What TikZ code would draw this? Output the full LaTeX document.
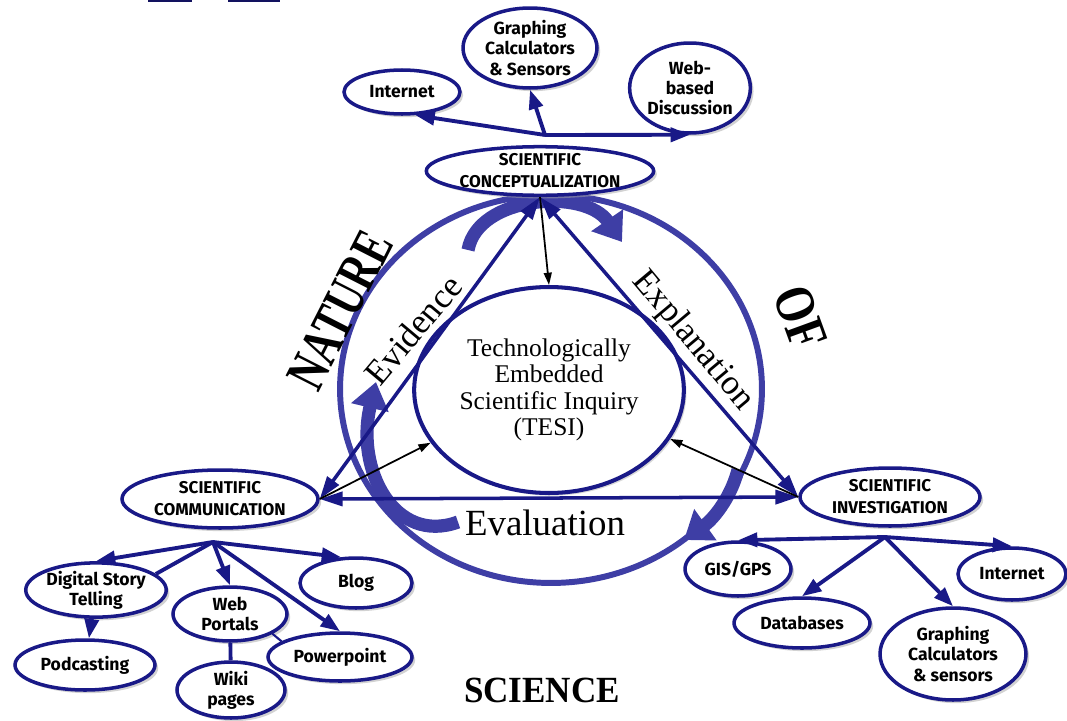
\documentclass[tikz,border=0pt]{standalone}
\usepackage{fontspec}
\setmainfont{Liberation Serif}
\newfontfamily\boxfont{Fira Sans}
\usetikzlibrary{shapes.geometric,arrows.meta,shadows}
\definecolor{navy}{RGB}{25,25,135}
\definecolor{ringblue}{RGB}{62,62,165}
\tikzset{
  bubble/.style={ellipse, draw=navy, line width=2pt, fill=white, inner sep=0pt, align=center,
    font=\boxfont\bfseries\fontsize{10}{11.5}\selectfont,
    drop shadow={shadow xshift=1.8pt, shadow yshift=-1.8pt, fill=black!35}},
  head/.style={bubble, font=\boxfont\bfseries\fontsize{9.7}{12.5}\selectfont},
  link/.style={draw=navy, line width=2.2pt, -{Triangle[length=11pt,width=8pt]}},
  bar/.style={draw=navy, line width=2.2pt},
  tri/.style={draw=navy, line width=2pt, {Triangle[length=13pt,width=8pt]}-{Triangle[length=13pt,width=8pt]}},
  pointer/.style={draw=black, line width=1pt, -{Triangle[length=7pt,width=4.5pt]}},
  band/.style={draw=ringblue, line width=7.5pt, -{Triangle[length=15pt,width=21pt]}},
  word/.style={font=\fontsize{20}{20}\selectfont},
  big/.style={font=\bfseries\fontsize{32}{32}\selectfont}
}
\begin{document}
\begin{tikzpicture}[x=0.02cm,y=-0.02cm]
\useasboundingbox (0,0) rectangle (1067,720);
\fill[navy!70!black] (148,0) rectangle (192,1.5);
\fill[navy!70!black] (228,0) rectangle (280,1.5);

\node[ellipse, draw=ringblue, line width=3.4pt, minimum width=8.44cm, minimum height=7.76cm] (ring) at (551,389) {};

\draw[band] (468,250) .. controls (478,195) and (585,188) .. (622,242);
\draw[band] (738,470) .. controls (730,500) and (712,520) .. (684,540);
\draw[band] (458,522) .. controls (395,545) and (355,470) .. (376,382);

\node[ellipse, draw=navy, line width=2.3pt, fill=white, minimum width=5.04cm, minimum height=4.12cm,
  drop shadow={shadow xshift=1.5pt, shadow yshift=-1.5pt, fill=black!30},
  align=center, font=\fontsize{14.5}{15}\selectfont] (tesi) at (549,390)
  {Technologically\\Embedded\\Scientific Inquiry\\(TESI)};

\node[head, minimum width=4.52cm, minimum height=0.96cm] (conc) at (540,171) {SCIENTIFIC\\CONCEPTUALIZATION};
\node[head, minimum width=3.92cm, minimum height=1.16cm] (comm) at (220,499) {SCIENTIFIC\\COMMUNICATION};
\node[head, minimum width=3.6cm, minimum height=1.16cm] (inv) at (890,497) {SCIENTIFIC\\INVESTIGATION};

\node[bubble, minimum width=2.32cm, minimum height=0.88cm] (inttop) at (402,92) {Internet};
\node[bubble, minimum width=2.68cm, minimum height=1.6cm] (graphtop) at (530,48) {Graphing\\Calculators\\\& Sensors};
\node[bubble, minimum width=2.32cm, minimum height=1.8cm] (webdisc) at (690,88) {Web-\\based\\Discussion};

\node[bubble, minimum width=2.68cm, minimum height=0.96cm] (digital) at (96,590) {Digital Story\\Telling};
\node[bubble, minimum width=2.28cm, minimum height=1.08cm] (portals) at (230,614) {Web\\Portals};
\node[bubble, minimum width=2.24cm, minimum height=1.0cm] (blog) at (356,583) {Blog};
\node[bubble, minimum width=2.8cm, minimum height=1.0cm] (podcast) at (85,665) {Podcasting};
\node[bubble, minimum width=2.88cm, minimum height=0.96cm] (powerpt) at (340,657) {Powerpoint};
\node[bubble, minimum width=2.16cm, minimum height=1.12cm] (wiki) at (231,690) {Wiki\\pages};

\node[bubble, minimum width=2.12cm, minimum height=1.08cm] (gis) at (738,569) {GIS/GPS};
\node[bubble, minimum width=2.16cm, minimum height=1.04cm] (intright) at (1012,574) {Internet};
\node[bubble, minimum width=2.72cm, minimum height=1.0cm] (databases) at (802,623) {Databases};
\node[bubble, minimum width=2.92cm, minimum height=1.84cm] (graphright) at (953,654) {Graphing\\Calculators\\\& sensors};

\coordinate (chub) at (545,135);
\coordinate (mhub) at (213,542);
\coordinate (ihub) at (885,537);

\draw[link] (chub) -- (inttop.-60);
\draw[link] (chub) -- (webdisc.south);
\draw[link] (chub) -- (graphtop.south);

\draw[link] (mhub) -- (digital.north);
\draw[bar] (digital.15) -- (mhub);
\draw[link] (mhub) -- (blog.120);
\draw[link] (mhub) -- (portals.north);
\draw[link] (mhub) -- (powerpt.north);
\draw[bar, line width=1.2pt] (portals.-25) -- (powerpt.165);
\draw[bar] (portals) -- (wiki);
\draw[link] (digital) -- (podcast);

\draw[link] (ihub) -- (gis.north);
\draw[link] (ihub) -- (intright.north);
\draw[link] (ihub) -- (databases.north);
\draw[link] (ihub) -- (graphright.north);

\draw[tri] (comm.east) -- (conc.south);
\draw[tri] (inv.west) -- (conc.south);
\draw[tri] (comm.east) -- (inv.west);
\draw[pointer] (conc.south) -- (tesi.north);
\draw[pointer] (comm.east) -- (tesi.204);
\draw[pointer] (inv.west) -- (tesi.338);

\node[word, rotate=50] (evid) at (413,330) {Evidence};
\node[word, rotate=-50] (expl) at (693,341) {Explanation};
\node[word, font=\fontsize{21}{21}\selectfont] (eval) at (545,523) {Evaluation};
\node[big, rotate=63] (nature) at (340,310) {\scalebox{0.72}[1]{NATURE}};
\node[big, rotate=-70] (of) at (800,318) {\scalebox{0.8}[1]{OF}};
\node[big, font=\bfseries\fontsize{21}{21}\selectfont] (science) at (542,690) {\scalebox{0.95}[1]{SCIENCE}};
\end{tikzpicture}
\end{document}
